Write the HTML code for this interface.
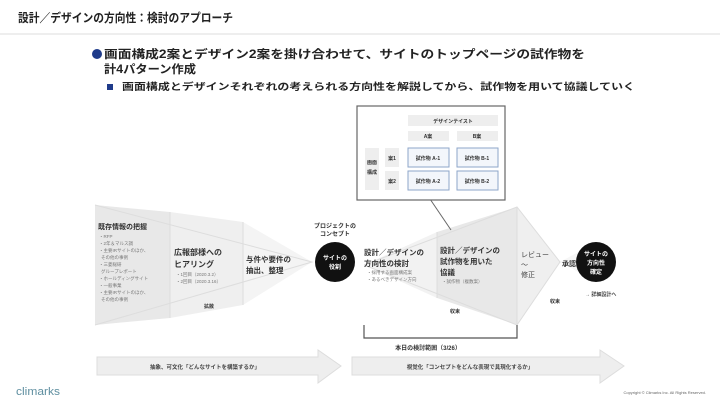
<!DOCTYPE html>
<html><head><meta charset="utf-8"><style>
body{margin:0;width:720px;height:406px;overflow:hidden;background:#fff;font-family:"Liberation Sans","Noto Sans CJK JP",sans-serif;}
svg text{font-family:"Liberation Sans","Noto Sans CJK JP",sans-serif;}
</style></head><body>
<svg width="720" height="406" viewBox="0 0 720 406" xmlns="http://www.w3.org/2000/svg">
<text x="18" y="22" font-size="12" font-weight="bold" fill="#222" textLength="215" lengthAdjust="spacingAndGlyphs">設計／デザインの方向性：検討のアプローチ</text>
<rect x="0" y="33" width="720" height="2" fill="#eee"/>
<circle cx="97" cy="54" r="5" fill="#1f3b8a"/>
<text x="104" y="58" font-size="11.5" font-weight="bold" fill="#222" textLength="481" lengthAdjust="spacingAndGlyphs">画面構成2案とデザイン2案を掛け合わせて、サイトのトップページの試作物を</text>
<text x="104" y="73" font-size="11.5" font-weight="bold" fill="#222" textLength="92" lengthAdjust="spacingAndGlyphs">計4パターン作成</text>
<rect x="107" y="84" width="6" height="6" fill="#1f3b8a"/>
<text x="122" y="90" font-size="9.5" font-weight="bold" fill="#222" textLength="513" lengthAdjust="spacingAndGlyphs">画面構成とデザインそれぞれの考えられる方向性を解説してから、試作物を用いて協議していく</text>
<!-- left funnel -->
<polygon points="95,205 170,212 170,318 95,325" fill="#e8e8e8"/>
<polygon points="170,212 243,222 243,305 170,318" fill="#efefef"/>
<polygon points="243,222 312,262 243,305" fill="#f4f4f4"/>
<g stroke="#ddd" fill="none"><polyline points="95,205 312,262 95,325"/><line x1="170" y1="212" x2="170" y2="318"/><line x1="243" y1="222" x2="243" y2="305"/></g>
<text x="98" y="229" font-size="7" font-weight="bold" fill="#333">既存情報の把握</text>
<g font-size="4.5" fill="#777"><text x="99" y="238">・RFP</text><text x="99" y="245">・2年＆マルス調</text><text x="99" y="252">・主要IRサイトのほか、</text><text x="101" y="259">その他の事例</text><text x="99" y="266">・三菱総研</text><text x="101" y="273">グループレポート</text><text x="99" y="280">・ホールディングサイト</text><text x="99" y="287">・一般事業</text><text x="99" y="294">・主要IRサイトのほか、</text><text x="101" y="301">その他の事例</text></g>
<text x="174" y="255" font-size="8" font-weight="bold" fill="#333">広報部様への</text>
<text x="174" y="267" font-size="8" font-weight="bold" fill="#333">ヒアリング</text>
<g font-size="4.5" fill="#777"><text x="176" y="276">・1回目（2020.3.2）</text><text x="176" y="283">・2回目（2020.3.16）</text></g>
<text x="246" y="262" font-size="7.5" font-weight="bold" fill="#333">与件や要件の</text>
<text x="246" y="273" font-size="7.5" font-weight="bold" fill="#333">抽出、整理</text>
<text x="204" y="308" font-size="5" font-weight="bold" fill="#333">拡散</text>
<text x="335" y="228" font-size="6" font-weight="bold" fill="#333" text-anchor="middle">プロジェクトの</text>
<text x="335" y="236" font-size="6" font-weight="bold" fill="#333" text-anchor="middle">コンセプト</text>
<circle cx="335" cy="262" r="20" fill="#111"/>
<text x="335" y="260" font-size="6" font-weight="bold" fill="#fff" text-anchor="middle">サイトの</text>
<text x="335" y="269" font-size="6" font-weight="bold" fill="#fff" text-anchor="middle">役割</text>
<!-- right funnel -->
<polygon points="364,265 437,232 437,298" fill="#f2f2f2"/>
<polygon points="437,232 517,207 517,325 437,298" fill="#e8e8e8"/>
<polygon points="517,207 560,262 517,325" fill="#efefef"/>
<polygon points="560,262 582,250 582,274" fill="#f6f6f6"/>
<g stroke="#ddd" fill="none"><polyline points="364,265 517,207 560,262 517,325 364,265"/><line x1="437" y1="232" x2="437" y2="298"/><line x1="517" y1="207" x2="517" y2="325"/></g>
<text x="364" y="255" font-size="7.5" font-weight="bold" fill="#333">設計／デザインの</text>
<text x="364" y="266" font-size="7.5" font-weight="bold" fill="#333">方向性の検討</text>
<g font-size="4.5" fill="#777"><text x="367" y="274">・採用する画面構成案</text><text x="367" y="281">・あるべきデザイン方向</text></g>
<text x="440" y="253" font-size="7.5" font-weight="bold" fill="#333">設計／デザインの</text>
<text x="440" y="264" font-size="7.5" font-weight="bold" fill="#333">試作物を用いた</text>
<text x="440" y="275" font-size="7.5" font-weight="bold" fill="#333">協議</text>
<text x="442" y="283" font-size="4.5" fill="#777">・試作物（複数案）</text>
<text x="521" y="257" font-size="7" fill="#444">レビュー</text>
<text x="521" y="267" font-size="7" fill="#444">〜</text>
<text x="521" y="277" font-size="7" fill="#444">修正</text>
<text x="562" y="266" font-size="7" font-weight="bold" fill="#333">承認</text>
<text x="450" y="313" font-size="5" font-weight="bold" fill="#333">収束</text>
<text x="550" y="303" font-size="5" font-weight="bold" fill="#333">収束</text>
<circle cx="596" cy="262" r="20" fill="#111"/>
<text x="596" y="256" font-size="6" font-weight="bold" fill="#fff" text-anchor="middle">サイトの</text>
<text x="596" y="265" font-size="6" font-weight="bold" fill="#fff" text-anchor="middle">方向性</text>
<text x="596" y="274" font-size="6" font-weight="bold" fill="#fff" text-anchor="middle">確定</text>
<text x="585" y="296" font-size="5" font-weight="bold" fill="#444">→ 詳細設計へ</text>
<!-- box -->
<line x1="430" y1="199" x2="451" y2="230" stroke="#666" stroke-width="1"/>
<rect x="357" y="106" width="148" height="94" fill="#fff" stroke="#666" stroke-width="1.2"/>
<rect x="408" y="115" width="90" height="11" fill="#eee"/><text x="453" y="123" font-size="5" font-weight="bold" fill="#333" text-anchor="middle">デザインテイスト</text>
<rect x="408" y="131" width="41" height="10" fill="#eee"/><text x="428" y="138" font-size="5" font-weight="bold" fill="#333" text-anchor="middle">A案</text>
<rect x="457" y="131" width="41" height="10" fill="#eee"/><text x="477" y="138" font-size="5" font-weight="bold" fill="#333" text-anchor="middle">B案</text>
<rect x="365" y="148" width="14" height="42" fill="#eee"/><text x="372" y="164" font-size="5" font-weight="bold" fill="#333" text-anchor="middle">画面</text><text x="372" y="174" font-size="5" font-weight="bold" fill="#333" text-anchor="middle">構成</text>
<rect x="385" y="148" width="14" height="19" fill="#eee"/><text x="392" y="160" font-size="5" font-weight="bold" fill="#333" text-anchor="middle">案1</text>
<rect x="385" y="171" width="14" height="19" fill="#eee"/><text x="392" y="183" font-size="5" font-weight="bold" fill="#333" text-anchor="middle">案2</text>
<g fill="#f3f6fb" stroke="#8ea6c9" stroke-width="1"><rect x="408" y="148" width="41" height="19"/><rect x="457" y="148" width="41" height="19"/><rect x="408" y="171" width="41" height="19"/><rect x="457" y="171" width="41" height="19"/></g>
<g font-size="5" font-weight="bold" fill="#333" text-anchor="middle"><text x="428" y="160">試作物 A-1</text><text x="477" y="160">試作物 B-1</text><text x="428" y="183">試作物 A-2</text><text x="477" y="183">試作物 B-2</text></g>
<!-- bracket -->
<polyline points="364,325 364,338 517,338 517,325" fill="none" stroke="#555" stroke-width="1.2"/>
<text x="428" y="350" font-size="6" font-weight="bold" fill="#333" text-anchor="middle">本日の検討範囲（3/26）</text>
<!-- arrows -->
<polygon points="97,357 318,357 318,350 341,366 318,383 318,375 97,375" fill="#eee" stroke="#ddd"/>
<text x="205" y="369" font-size="5.5" font-weight="bold" fill="#444" text-anchor="middle">抽象、可文化「どんなサイトを構築するか」</text>
<polygon points="352,357 600,357 600,350 624,366 600,383 600,375 352,375" fill="#eee" stroke="#ddd"/>
<text x="470" y="369" font-size="5.5" font-weight="bold" fill="#444" text-anchor="middle">視覚化「コンセプトをどんな表現で具現化するか」</text>
<text x="16" y="395" font-size="11" fill="#5f8fa0" textLength="44" lengthAdjust="spacingAndGlyphs">climarks</text>
<text x="706" y="394" font-size="4" fill="#666" text-anchor="end">Copyright © Climarks Inc. All Rights Reserved.</text>
</svg>
</body></html>
